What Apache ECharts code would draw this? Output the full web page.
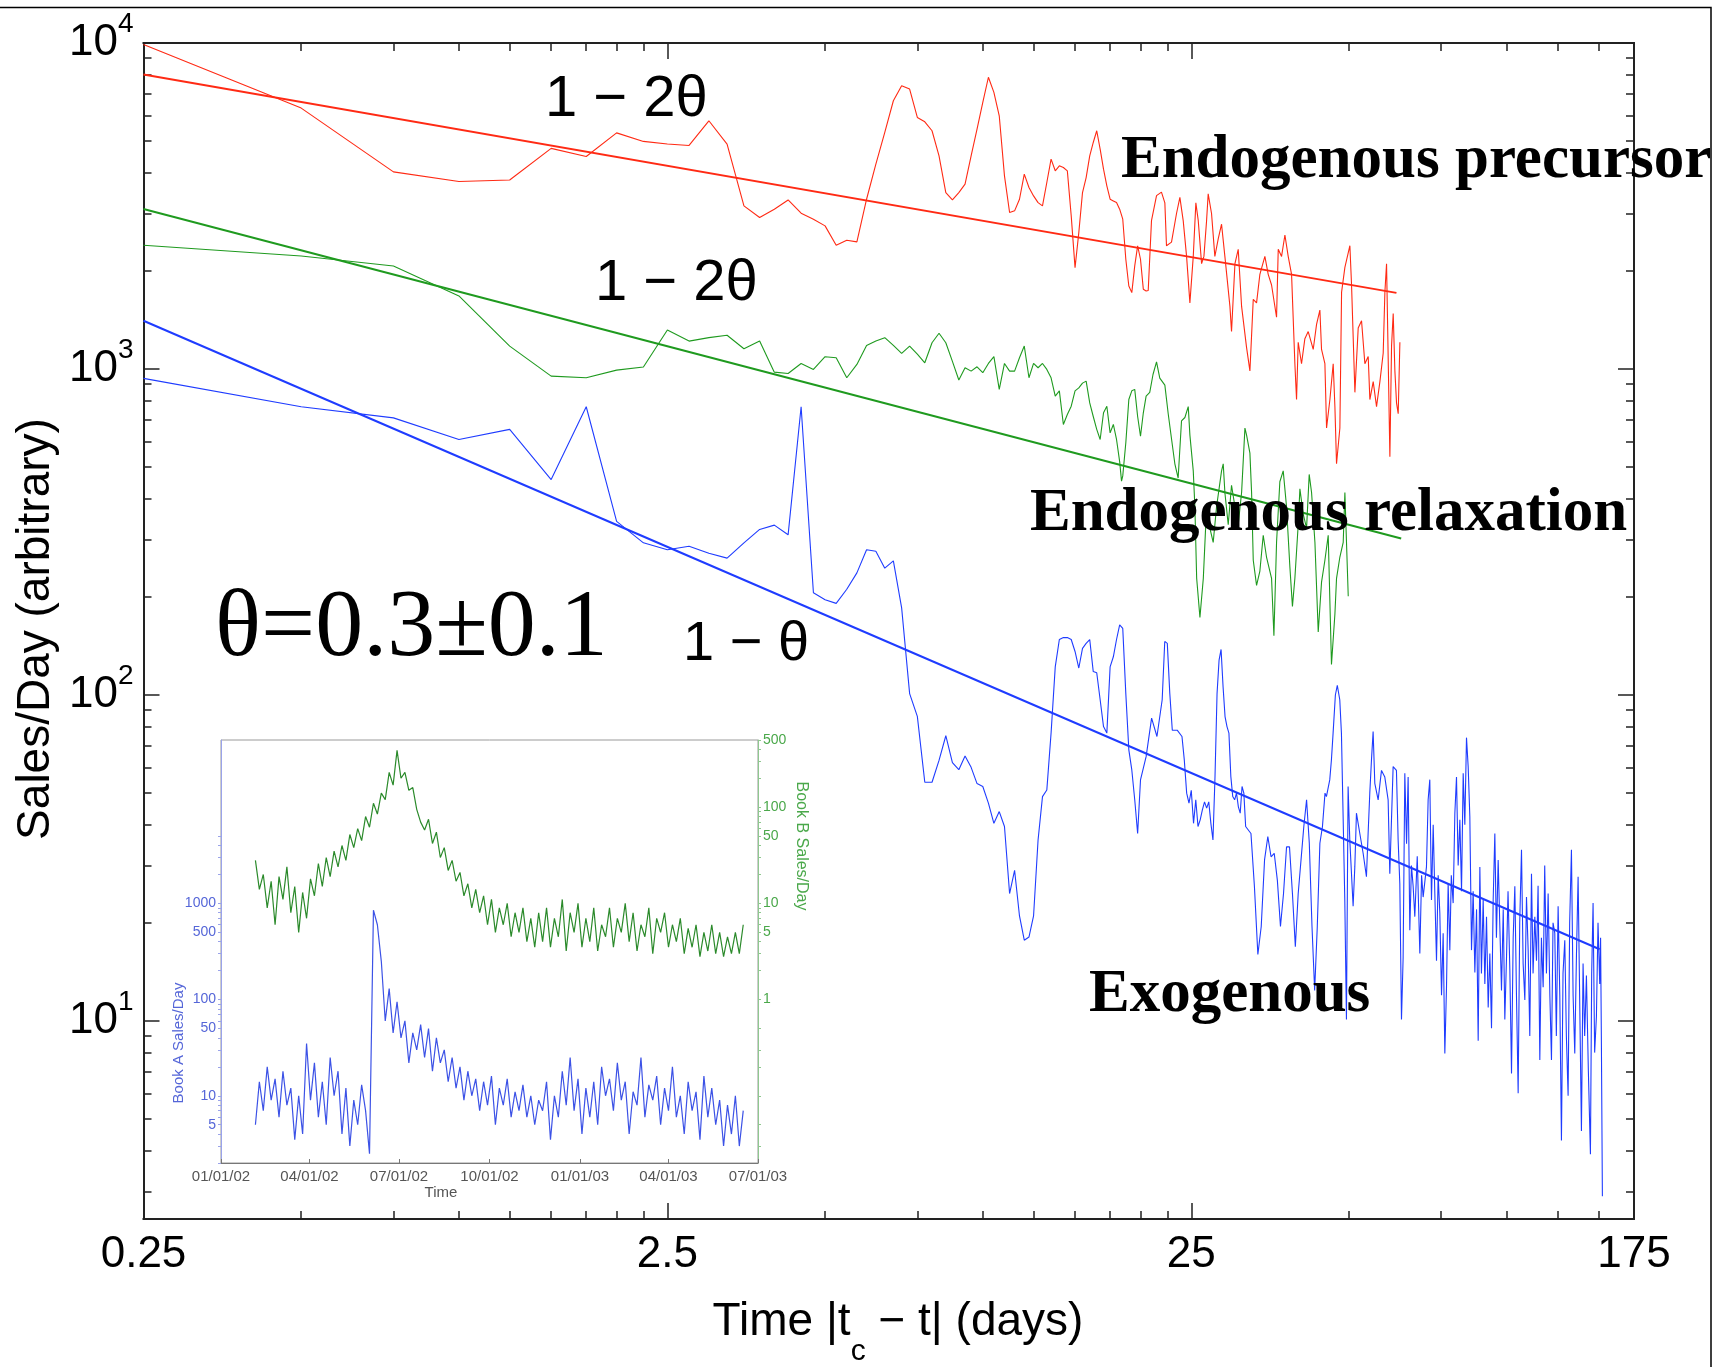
<!DOCTYPE html>
<html><head><meta charset="utf-8">
<script src="https://cdn.jsdelivr.net/npm/echarts@6/dist/echarts.min.js"></script>
<style>html,body{margin:0;padding:0;background:#fff}#c{width:1731px;height:1367px}</style>
</head><body><div id="c"></div>
<script>
// ---------- main chart data: [days |tc - t|, sales/day] ----------
const precursorRed = [[0.25,9900],[0.5,6315],[0.75,4025],[1,3760],[1.25,3800],[1.5,4750],[1.75,4487],[2,5300],[2.25,4990],[2.5,4900],[2.75,4850],[3,5773],[3.25,4895],[3.5,3165],[3.75,2915],[4,3092],[4.25,3301],[4.5,3006],[4.75,2881],[5,2748],[5.25,2397],[5.5,2483],[5.75,2454],[6,3317],[6.25,4250],[6.5,5317],[6.75,6650],[7,7396],[7.25,7224],[7.5,5910],[7.75,5732],[8,5380],[8.25,4508],[8.5,3477],[8.75,3301],[9,3477],[9.25,3689],[9.5,4508],[9.75,5444],[10,6572],[10.25,7851],[10.5,7056],[10.75,5980],[11,3913],[11.25,3020],[11.5,3056],[11.75,3317],[12,3959],[12.25,3603],[12.5,3396],[12.75,3239],[13,3165],[13.25,3733],[13.5,4403],[13.75,4055],[14,4200],[14.25,4151],[14.5,4055],[14.75,2950],[15,2046],[15.25,2621],[15.5,3477],[15.75,3866],[16,4508],[16.25,4953],[16.5,5380],[16.75,4725],[17,4103],[17.25,3646],[17.5,3317],[17.75,3278],[18,3239],[18.25,3092],[18.5,2881],[18.75,2171],[19,1798],[19.25,1715],[19.5,2071],[19.75,2385],[20,2171],[20.25,1756],[20.5,1735],[20.69,1742],[20.99,2851],[21.46,3402],[21.93,3488],[22.26,3233],[22.42,2389],[22.92,2450],[23.43,2999],[23.78,3360],[24.13,2851],[24.49,2215],[24.85,1595],[25.22,2215],[25.51,3233],[25.78,2851],[26.16,2104],[26.43,2215],[26.74,2851],[26.93,3445],[27.33,2999],[27.73,2215],[28.15,2513],[28.56,2780],[28.98,2215],[29.63,1556],[29.84,1303],[30.29,2104],[30.73,2329],[31.19,1556],[31.88,1163],[32.35,987],[32.59,1270],[32.83,1636],[33.31,1595],[33.8,1952],[34.55,2215],[35.06,1952],[35.58,1810],[36.37,1441],[36.64,2329],[37.18,2215],[37.73,2577],[38.28,2215],[38.85,1952],[39.42,1038],[39.71,806],[40,1208],[40.59,1038],[41.19,1239],[41.8,1303],[42.73,1148],[43.36,1371],[44,1517],[44.32,1148],[44.98,1038],[45.31,659],[45.98,806],[46.65,1038],[47,767],[47.34,512],[48.04,659],[48.4,1720],[49.11,2051],[50.2,2389],[50.57,1810],[51.32,848],[52.07,1336],[52.84,1406],[53.62,1038],[54.41,1093],[54.81,806],[55.62,915],[56.44,767],[57.28,915],[58.12,1120],[58.55,1720],[58.98,2104],[59.85,538],[60.29,1178],[60.73,1480],[61.18,987],[61.63,786],[62.08,729],[62.54,1208]];
const relaxationGreen = [[0.25,2397],[0.5,2222],[0.75,2070],[1,1675],[1.25,1175],[1.5,951],[1.75,940],[2,992],[2.25,1014],[2.5,1317],[2.75,1218],[3,1248],[3.25,1269],[3.5,1154],[3.75,1218],[4,978],[4.25,969],[4.5,1040],[4.75,997],[5,1091],[5.25,1083],[5.5,940],[5.75,1033],[6,1181],[6.25,1218],[6.5,1248],[6.75,1181],[7,1117],[7.25,1176],[7.5,1110],[7.75,1045],[8,1204],[8.25,1287],[8.5,1204],[8.75,1055],[9,925],[9.25,1009],[9.5,985],[9.75,1016],[10,974],[10.25,1040],[10.5,1091],[10.75,866],[11,1040],[11.25,985],[11.5,985],[11.75,1083],[12,1176],[12.25,940],[12.5,1040],[12.75,1009],[13,1040],[13.25,997],[13.5,940],[13.75,826],[14,857],[14.25,676],[14.5,725],[14.75,769],[15,857],[15.25,875],[15.5,905],[15.75,918],[16,787],[16.25,715],[16.5,653],[16.75,608],[17,734],[17.25,769],[17.5,637],[17.75,676],[18,608],[18.25,520],[18.4,453],[18.5,470],[18.75,594],[19,806],[19.25,857],[19.5,866],[19.75,715],[20,622],[20.25,734],[20.5,826],[20.83,848],[21.13,962],[21.46,1051],[21.77,938],[22.26,892],[22.59,729],[22.92,611],[23.26,512],[23.6,463],[23.95,693],[24.31,710],[24.67,767],[24.85,627],[25.22,487],[25.4,378],[25.6,228],[25.97,173],[26.36,228],[26.74,378],[27.13,325],[27.53,294],[27.94,378],[28.56,487],[28.77,512],[28.98,418],[29.41,333],[29.84,440],[30.29,378],[30.73,333],[31.19,418],[31.65,659],[31.88,627],[32.35,552],[32.59,418],[32.83,259],[33.31,217],[33.8,240],[34.3,309],[34.8,265],[35.58,228],[35.95,152],[36.37,294],[36.9,451],[37.45,487],[38,378],[38.57,246],[39,187],[39.42,228],[40,333],[40.3,429],[40.89,359],[41.5,325],[41.98,475],[42.42,418],[43.05,294],[43.68,156],[44.32,222],[44.98,259],[45.64,309],[46.3,124],[47,177],[47.34,228],[48.04,265],[48.75,294],[49.11,418],[49.84,201]];
const exogenousBlue = [[0.25,936],[0.5,766],[0.75,708],[1,608],[1.25,653],[1.5,458],[1.75,766],[2,341],[2.25,293],[2.5,279],[2.75,286],[3,272],[3.25,263],[3.5,293],[3.75,322],[4,332],[4.25,310],[4.5,766],[4.75,206],[5,196],[5.25,191],[5.5,211],[5.75,237],[6,279],[6.25,276],[6.5,245],[6.75,258],[7,185],[7.25,101],[7.5,86],[7.75,54],[8,54],[8.25,63],[8.5,75],[8.75,62],[9,59],[9.25,65],[9.5,60],[9.75,53.5],[10,52.4],[10.25,46.6],[10.5,40.4],[10.75,43.9],[11,39.5],[11.25,24.6],[11.5,29],[11.75,21],[12,17.7],[12.25,18.1],[12.5,21],[12.75,35.9],[13,48.8],[13.25,51.1],[13.5,76.4],[13.75,122],[14,148],[14.25,150],[14.5,150],[14.75,148],[15,136],[15.25,121],[15.5,139],[15.75,144],[16,148],[16.25,118],[16.5,117],[16.75,96.7],[17,80],[17.25,76.4],[17.5,122],[17.75,131],[18,148],[18.25,164],[18.5,160],[18.75,101],[19,67.9],[19.25,58.9],[19.5,47.7],[19.75,37.6],[20,54.9],[20.5,64.7],[21,84.9],[21.5,74.6],[22,96.7],[22.25,146],[22.5,144],[22.75,101],[23,78],[23.5,78],[24,74.6],[24.25,63],[24.5,50],[24.75,46.6],[25,51],[25.25,40.4],[25.5,47.7],[25.75,39.5],[26,41.4],[26.25,44.4],[26.5,47],[26.75,45],[27,47],[27.25,40.4],[27.5,35.9],[27.75,56.2],[28,101],[28.25,128],[28.5,138],[28.75,106],[29,85.9],[29.25,80],[29.5,76.4],[29.75,56.2],[30,48.8],[30.25,47.7],[30.5,50],[30.75,45.4],[31,43.4],[31.25,52.4],[31.5,50],[31.75,39.5],[32,39.5],[32.5,37.6],[33,25.8],[33.5,16],[34,19.5],[34.5,31.2],[35,36.8],[35.5,31.9],[36,32.7],[36.5,27],[37,19.5],[37.5,24.6],[38,34.2],[38.5,34.2],[39,24.6],[39.5,16.9],[40,24.6],[40.5,31.2],[41,39.5],[41.5,47.7],[42,35.1],[42.5,19.5],[43,12.4],[43.5,19.5],[44,35.1],[44.5,39.5],[45,50],[45.28,48.8],[45.95,54.9],[46.29,63.3],[46.63,76.4],[47.1,100],[47.5,107],[48.02,96.7],[48.37,76.4],[48.73,42.4],[49.09,23.5],[49.45,10.1],[49.81,52.4],[50.18,35.9],[50.92,22.5],[51.3,29.7],[51.67,43.4],[52.44,37.6],[53.21,32.7],[53.99,27.7],[54.39,37.6],[54.79,50],[55.2,63.3],[55.6,77.3],[56.01,53.6],[56.84,47.7],[57.68,58.7],[58.53,56],[59.39,47.7],[59.83,28.3],[60.71,60.3],[61.6,58.7],[62.06,35.9],[62.52,26.4],[62.98,10.1],[63.44,15.7],[63.91,57.5],[64.4,35],[64.85,56],[65.33,19],[65.8,30],[66.29,25.9],[66.78,20.9],[67.5,32],[68.27,16.1],[68.8,28],[69.27,24],[70.29,29.7],[70.81,47.7],[71.33,55],[71.86,23.5],[72.4,40],[72.92,24.6],[73.46,15.3],[74,28],[74.54,21.4],[75.1,12],[75.64,18.6],[76.2,7.95],[76.76,12.7],[77.32,26.4],[77.89,16.5],[78.4,28],[79.04,23],[79.63,43.4],[80.21,56],[80.8,30],[81.4,41.4],[82,25],[82.6,57.5],[83.2,40],[83.81,74],[84.43,60.3],[85.05,42.4],[85.68,16.5],[86.3,25],[86.95,14.1],[87.6,22],[88.23,8.7],[88.88,29.7],[89.5,14],[90.19,23.5],[90.85,13],[91.52,20.9],[92.2,11],[92.87,16.1],[93.55,9.5],[94.24,23.5],[94.93,37.6],[95.6,18],[96.33,31.2],[97,20],[97.75,12.4],[98.5,22],[99.19,10.1],[99.93,15.7],[100.6,25],[101.4,14.4],[102.15,6.9],[102.9,18],[103.65,25.9],[104.4,12],[105.18,6],[105.9,20],[106.73,33.5],[107.5,15],[108.31,11.6],[109.1,24],[109.9,16.5],[110.7,9],[111.52,28.3],[112.3,14],[113.17,20.9],[114,15.3],[114.8,26],[115.68,7.6],[116.5,18],[117.39,12.7],[118.2,30],[119.1,14],[119.99,24.6],[120.9,12],[121.76,7.6],[122.6,20],[123.55,18.6],[124.4,9],[125.37,22.5],[126.3,12],[127.22,4.3],[128.1,14],[129.1,17.7],[130,9],[131,5.9],[131.9,20],[132.93,33.5],[133.9,12],[134.89,7.95],[135.9,16],[136.88,27.7],[137.9,11],[138.9,4.6],[139.9,15],[140.9,9],[141.98,13.8],[143.2,7],[144.5,3.9],[145.3,14],[146.19,23],[147.2,8],[148.35,10.3],[149.4,20],[150.54,13],[151.1,18],[151.64,8.5],[152.3,2.9]];
// power-law fits (straight lines on log-log): endpoints
const precursorFit = [[0.25,8000],[61.6,1712]];
const relaxationFit = [[0.25,3096],[62.9,302]];
const exogenousFit = [[0.25,1406],[150.5,16.6]];

// ---------- axis ticks / labels ----------
const xTickLabels = [0.25, 2.5, 25, 175];
const xMajorTicks = [2.5, 25];
const xMinorTicks = [0.5,0.75,1,1.25,1.5,1.75,2,2.25,5,7.5,10,12.5,15,17.5,20,22.5,50,75,100,125,150];
const yMajorTicks = [10, 100, 1000, 10000];
const yMinorTicks = [3,4,5,6,7,8,9,20,30,40,50,60,70,80,90,200,300,400,500,600,700,800,900,2000,3000,4000,5000,6000,7000,8000,9000];

// ---------- inset data (Book A / Book B daily sales, every 4 days from day 35 after 01/01/02) ----------
const insetStartDay = 35, insetStepDays = 4;
const bookA = [5,14,7,20,9,15,6,18,8,12,3.5,10,4,35,9,22,6,14,5,25,10,18,4,12,3,9,5,13,7,2.5,850,600,250,60,130,45,95,40,60,22,45,30,55,25,50,18,40,22,30,14,25,12,20,9,18,10,15,7,14,8,16,5,12,8,15,6,11,7,13,6,10,5,9,7,14,3.5,10,6,18,8,25,7,15,4,12,6,14,5,20,10,15,7,22,9,14,4,11,8,25,6,13,9,16,5,12,7,20,6,10,4,14,7,11,3.5,16,6,12,5,9,3,8,4,10,3,7];
const bookB = [28,14,20,9,17,6,19,11,24,8,15,5,13,7,18,12,26,15,30,19,35,24,40,28,52,38,60,45,80,62,110,85,140,120,230,170,390,200,230,150,160,95,70,58,75,42,55,30,38,22,28,17,21,12,16,9,14,8,12,6,11,5,9,6,10,4.5,8,5,9,4,7,3.5,8,4,9,3.5,7,4.5,11,3.2,8,5,10,3.5,7,4,9,3.2,6,4.5,9,3.5,7,5,10,4,8,3.2,6,4.5,9,3,7,5,8,3.5,6,4,7,3,5.5,3.5,6,2.8,5,3.2,6,3,5,2.8,4.5,3,5,3,6];
const insetTickDays = [0, 90, 181, 273, 365, 455, 546];
const insetTickLabels = ['01/01/02','04/01/02','07/01/02','10/01/02','01/01/03','04/01/03','07/01/03'];
const bookALabels = [5, 10, 50, 100, 500, 1000];
const bookBLabels = [1, 5, 10, 50, 100, 500];

// ---------- styling ----------
const RED = '#ff2a14', GREEN = '#1f9a1f', BLUE = '#1f3cff';
const SANS = '"Liberation Sans", Arial, Helvetica, sans-serif';
const SERIF = '"Liberation Serif", "Times New Roman", serif';
const AX = '#222';

const chart = echarts.init(document.getElementById('c'), null, {renderer: 'canvas'});

function xAxisDef(pos, ticks, len, withLabels) {
  return {
    type: 'log', logBase: 10, min: 0.25, max: 175, gridIndex: 0, position: pos,
    axisLine: {show: true, onZero: false, lineStyle: {color: AX, width: 2}},
    axisTick: {show: true, inside: true, length: len, customValues: ticks, lineStyle: {color: AX, width: 1.5}},
    axisLabel: withLabels ? {show: true, customValues: xTickLabels, margin: 14,
      fontSize: 44, fontFamily: SANS, color: '#000',
      formatter: v => String(+(+v).toPrecision(6))} : {show: false},
    splitLine: {show: false}
  };
}
function yAxisDef(pos, ticks, len, withLabels) {
  return {
    type: 'log', logBase: 10, min: 2.47, max: 10000, gridIndex: 0, position: pos,
    axisLine: {show: true, onZero: false, lineStyle: {color: AX, width: 2}},
    axisTick: {show: true, inside: true, length: len, customValues: ticks, lineStyle: {color: AX, width: 1.5}},
    axisLabel: withLabels ? {show: true, customValues: yMajorTicks, margin: 10,
      formatter: v => '{b|10}{s|' + Math.round(Math.log10(v)) + '}',
      rich: {
        b: {fontSize: 44, fontFamily: SANS, color: '#000', lineHeight: 66},
        s: {fontSize: 28, fontFamily: SANS, color: '#000', lineHeight: 27, verticalAlign: 'top'}
      }} : {show: false},
    splitLine: {show: false}
  };
}

const lineSeries = (data, color, width, z) => ({
  type: 'line', data: data, xAxisIndex: 0, yAxisIndex: 0, showSymbol: false, symbol: 'none',
  lineStyle: {color: color, width: width}, itemStyle: {color: color}, z: z, silent: true
});

function txt(text, x, y, font, extra) {
  return {type: 'text', x: x, y: y, z: 100,
    style: Object.assign({text: text, font: font, fill: '#000', align: 'left', verticalAlign: 'middle'}, extra || {})};
}

const option = {
  animation: false,
  backgroundColor: '#fff',
  grid: [
    {left: 143.5, right: 97, top: 43, bottom: 148, containLabel: false},
    {left: 221, right: 973, top: 740, bottom: 204, show: true, backgroundColor: '#fff', borderColor: '#9a9a9a', borderWidth: 1, z: 0}
  ],
  xAxis: [
    xAxisDef('bottom', xMajorTicks, 16, true),
    xAxisDef('bottom', xMinorTicks, 8, false),
    xAxisDef('top', xMajorTicks, 16, false),
    xAxisDef('top', xMinorTicks, 8, false),
    {type: 'value', gridIndex: 1, min: 0, max: 546, position: 'bottom',
      axisLine: {show: true, lineStyle: {color: '#777', width: 1}},
      axisTick: {show: true, inside: true, length: 4, customValues: insetTickDays, lineStyle: {color: '#777'}},
      axisLabel: {show: true, customValues: insetTickDays, margin: 6, fontSize: 15, fontFamily: SANS, color: '#555',
        formatter: v => insetTickLabels[insetTickDays.indexOf(Math.round(v))] || ''},
      splitLine: {show: false}}
  ],
  yAxis: [
    yAxisDef('left', yMajorTicks, 16, true),
    yAxisDef('left', yMinorTicks, 8, false),
    yAxisDef('right', yMajorTicks, 16, false),
    yAxisDef('right', yMinorTicks, 8, false),
    {type: 'log', logBase: 10, gridIndex: 1, min: 2, max: 50000, position: 'left',
      axisLine: {show: true, lineStyle: {color: '#9aa3ea', width: 1}},
      axisTick: {show: true, inside: false, length: 3, customValues: [2,3,4,5,6,7,8,9,10,20,30,40,50,60,70,80,90,100,200,300,400,500,600,700,800,900,1000,2000,3000,4000,5000], lineStyle: {color: '#9aa3ea'}},
      axisLabel: {show: true, customValues: bookALabels, margin: 5, fontSize: 14, fontFamily: SANS, color: '#5566d8',
        formatter: v => String(Math.round(v))},
      splitLine: {show: false}},
    {type: 'log', logBase: 10, gridIndex: 1, min: 0.02, max: 500, position: 'right',
      axisLine: {show: true, lineStyle: {color: '#8fc88f', width: 1}},
      axisTick: {show: true, inside: false, length: 3, customValues: [0.03,0.05,0.1,0.2,0.3,0.5,1,2,3,4,5,6,7,8,9,10,20,30,40,50,60,70,80,90,100,200,300,400,500], lineStyle: {color: '#8fc88f'}},
      axisLabel: {show: true, customValues: bookBLabels, margin: 5, fontSize: 14, fontFamily: SANS, color: '#4aa84a',
        formatter: v => String(Math.round(v))},
      splitLine: {show: false}}
  ],
  series: [
    lineSeries(precursorRed, RED, 1.1, 3),
    lineSeries(precursorFit, RED, 2, 4),
    lineSeries(relaxationGreen, GREEN, 1.1, 3),
    lineSeries(relaxationFit, GREEN, 2, 4),
    lineSeries(exogenousBlue, BLUE, 1.1, 3),
    lineSeries(exogenousFit, BLUE, 2, 4),
    {type: 'line', xAxisIndex: 4, yAxisIndex: 5, showSymbol: false, symbol: 'none', silent: true,
      data: bookB.map((v, i) => [insetStartDay + i * insetStepDays, v]),
      lineStyle: {color: '#2b8a2b', width: 1.2}, z: 5},
    {type: 'line', xAxisIndex: 4, yAxisIndex: 4, showSymbol: false, symbol: 'none', silent: true,
      data: bookA.map((v, i) => [insetStartDay + i * insetStepDays, v]),
      lineStyle: {color: '#3c52e6', width: 1.2}, z: 5}
  ],
  graphic: [
    {type: 'polyline', z: 100, shape: {points: [[0, 7.5], [1711, 7.5], [1711, 1367]]}, style: {stroke: '#000', lineWidth: 1.5, fill: null}},
    txt('1 \u2212 2\u03b8', 545, 100, '58px ' + SANS),
    txt('1 \u2212 2\u03b8', 595, 284, '58px ' + SANS),
    txt('1 \u2212 \u03b8', 683, 645, '56px ' + SANS),
    txt('\u03b8=0.3\u00b10.1', 215, 630, '96px ' + SERIF),
    txt('Endogenous precursor', 1121, 161, 'bold 61px ' + SERIF),
    txt('Endogenous relaxation', 1030, 514, 'bold 61px ' + SERIF),
    txt('Exogenous', 1089, 995, 'bold 61px ' + SERIF),
    {type: 'text', x: 36, y: 629, rotation: Math.PI / 2, z: 100,
      style: {text: 'Sales/Day (arbitrary)', font: '46px ' + SANS, fill: '#000', align: 'center', verticalAlign: 'middle'}},
    {type: 'text', x: 898, y: 1299, z: 100,
      style: {text: '{a|Time |t}{s|c}{a| \u2212 t| (days)}', fill: '#000', align: 'center', verticalAlign: 'top',
        rich: {a: {fontSize: 46, fontFamily: SANS, fill: '#000', lineHeight: 50, verticalAlign: 'top'},
               s: {fontSize: 30, fontFamily: SANS, fill: '#000', lineHeight: 30, padding: [38, 0, 0, 0], verticalAlign: 'top'}}}},
    {type: 'text', x: 179, y: 1043, rotation: Math.PI / 2, z: 100,
      style: {text: 'Book A Sales/Day', font: '15px ' + SANS, fill: '#5566d8', align: 'center', verticalAlign: 'middle'}},
    {type: 'text', x: 801, y: 846, rotation: -Math.PI / 2, z: 100,
      style: {text: 'Book B Sales/Day', font: '16px ' + SANS, fill: '#4aa84a', align: 'center', verticalAlign: 'middle'}},
    {type: 'text', x: 441, y: 1193, z: 100,
      style: {text: 'Time', font: '15px ' + SANS, fill: '#555', align: 'center', verticalAlign: 'middle'}}
  ]
};
chart.setOption(option);
</script></body></html>
